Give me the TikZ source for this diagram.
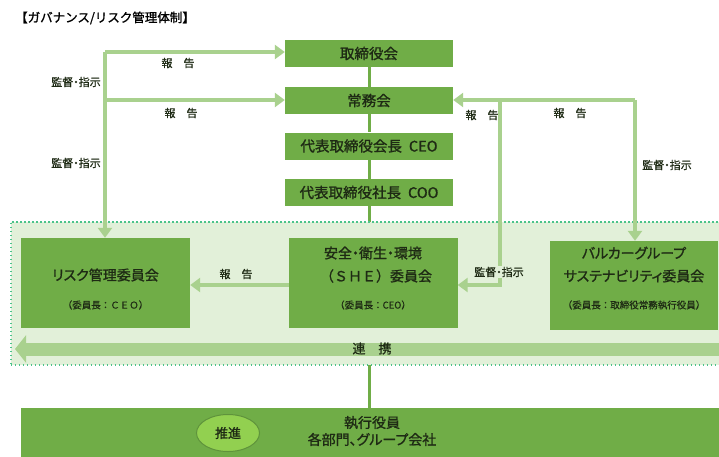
\documentclass[tikz,border=0pt]{standalone}
\usepackage{fontspec}
\newfontfamily\jp[RawFeature=+palt]{Noto Sans CJK JP}
\newfontfamily\jpb[RawFeature=+palt,FakeBold=1.2]{Noto Sans CJK JP}
\newfontfamily\jpl[RawFeature=+palt,FakeBold=0.6]{Noto Sans CJK JP}
\newfontfamily\jpw[FakeBold=1.2]{Noto Sans CJK JP}
\newfontfamily\jpwl[FakeBold=0.6]{Noto Sans CJK JP}
\usetikzlibrary{arrows.meta,shapes.geometric}
\definecolor{boxg}{HTML}{70AD47}
\definecolor{lightg}{HTML}{A9D18E}
\definecolor{regiong}{HTML}{E2F0D9}
\definecolor{dotg}{HTML}{4CC38A}
\definecolor{ellg}{HTML}{92D050}
\definecolor{txt}{HTML}{1E2A14}
\tikzset{
  every node/.style={font=\jp, text=txt, inner sep=0pt},
  gbox/.style={draw=none, fill=boxg, minimum width=#1, anchor=center},
  topbox/.style={gbox=168pt, minimum height=27pt, font=\jpb\fontsize{14.5}{16}\selectfont},
  cbox/.style={gbox=169pt, minimum height=90pt},
  conn/.style={draw=lightg, line width=4pt},
  conna/.style={conn, -{Triangle[width=14pt,length=10pt]}},
  lbl/.style={font=\jpl\fontsize{11}{12}\selectfont},
  big/.style={font=\jpb\fontsize{14}{17}\selectfont},
  bigw/.style={font=\jpw\fontsize{14}{17}\selectfont},
  small/.style={font=\jpwl\fontsize{9.5}{11}\selectfont},
}
\begin{document}
\begin{tikzpicture}[x=1pt,y=-1pt]
\useasboundingbox (0,0) rectangle (719,456);
\clip (0,0) rectangle (719,456);
\fill[white] (0,0) rectangle (719,456);

% title
\node[anchor=west, font=\jpw\fontsize{12.5}{14}\selectfont, text=black] (title) at (15,18) {【ガバナンス/リスク管理体制】};

% top column boxes
\node[topbox] (b1) at (369,53.5) {取締役会};
\node[topbox] (b2) at (369,100.5) {常務会};
\node[topbox] (b3) at (369,146) {代表取締役会長\hspace{7pt}CEO};
\node[topbox] (b4) at (369,192.5) {代表取締役社長\hspace{7pt}COO};

% bottom box
\node[fill=boxg, minimum width=720pt, minimum height=62pt, anchor=north west] (exec) at (21,408) {};
\node[big, align=center] (exectxt) at (372,431) {執行役員\\各部門、グループ会社};
\node[ellipse, fill=ellg, draw=boxg!85!black, line width=1pt, minimum width=63pt, minimum height=37pt, font=\jpb\fontsize{13}{15}\selectfont] (suishin) at (228,433) {推進};

% main vertical line
\draw[boxg, line width=3pt] (b1.south) -- (b2.north);
\draw[boxg, line width=3pt] (b2.south) -- (b3.north);
\draw[boxg, line width=3pt] (b3.south) -- (b4.north);
\draw[boxg, line width=3pt] (b4.south) -- (b4.south |- exec.north);

% region
\node[fill=regiong, draw=dotg, line width=1.6pt, dash pattern=on 1.6pt off 2.4pt, minimum width=730pt, minimum height=143pt, anchor=north west] (region) at (10,221) {};

% committee boxes
\node[cbox] (risk) at (105.5,283) {};
\node[big] (risk1) at (105.5,275) {リスク管理委員会};
\node[small] (risk2) at (105.5,305) {（委員長：ＣＥＯ）};

\node[cbox] (she) at (373,283) {};
\node[big] (she1) at (373,253) {安全・衛生・環境};
\node[bigw] (she2) at (376,276) {（ＳＨＥ）委員会};
\node[small] (she3) at (373,305) {（委員長：CEO）};

\node[gbox=168pt, minimum height=89pt] (bal) at (634,285.5) {};
\node[big] (bal1) at (634,253) {バルカーグループ};
\node[big] (bal2) at (634,276) {サステナビリティ委員会};
\node[small] (bal3) at (634,305) {（委員長：取締役常務執行役員）};

% renkei bar
\coordinate (barR) at (730,349);
\coordinate (barL) at (15,349);
\draw[lightg, line width=13pt, -{Triangle[width=27pt,length=11pt]}] (barR) -- (barL);
\node[font=\jpb\fontsize{13}{15}\selectfont] (renkei) at (372,348.5) {連　携};

% left connectors
\coordinate (L1) at (105,52);
\coordinate (L2) at (105,100);
\draw[conna] (L1) -- (L1 -| b1.west);
\draw[conna] (L2) -- (L2 -| b2.west);
\draw[conna] (L1) -- (L1 |- risk.north);
\node[lbl] (lr1) at (178,63) {報　告};
\node[lbl] (lr2) at (181,113) {報　告};
\node[lbl] (ls1) at (76,82) {監督・指示};
\node[lbl] (ls2) at (76,163) {監督・指示};

% right connectors
\coordinate (R1) at (635,100);
\coordinate (R2) at (500,100);
\coordinate (R3) at (500,285);
\draw[conna] (R1) -- (R1 -| b2.east);
\draw[conna] (R1) -- (R1 |- bal.north);
\draw[conna] (R2) -- (R3) -- (R3 -| she.east);
\node[lbl] (rr1) at (482,115) {報　告};
\node[lbl] (rr2) at (570,113) {報　告};
\node[lbl] (rs1) at (667,165) {監督・指示};
\node[lbl, fill=regiong, inner sep=1pt] (rs2) at (499,272) {監督・指示};

% SHE -> risk
\coordinate (S1) at (289,285);
\draw[conna] (S1) -- (S1 -| risk.east);
\node[lbl] (mr) at (236,274) {報　告};
\end{tikzpicture}
\end{document}
